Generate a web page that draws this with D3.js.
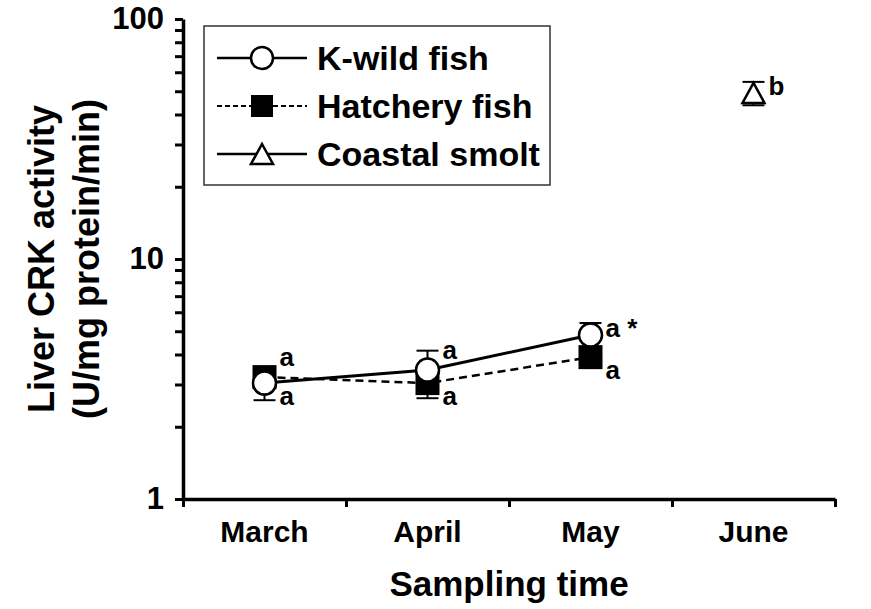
<!DOCTYPE html>
<html>
<head>
<meta charset="utf-8">
<script src="https://cdn.jsdelivr.net/npm/d3@7"></script>
<style>
  body { margin: 0; background: #fff; }
  svg { display: block; font-family: Arial, "Liberation Sans", sans-serif; font-weight: bold; }
</style>
</head>
<body>
<div id="chart"></div>
<script>
// sampling months
const months = ["March", "April", "May", "June"];

// K-wild fish (mean, SE)
const wildMean = [3.04, 3.45, 4.82, null];
const wildSE = [0.46, 0.7, 0.59, null];
const wildLetters = ["a", "a", "a*", null];
const wildSide = ["below", "above", "mid", null];

// Hatchery fish
const hatchMean = [3.22, 3.04, 3.9, null];
const hatchSE = [0.3, 0.41, 0.3, null];
const hatchLetters = ["a", "a", "a", null];
const hatchSide = ["above", "below", "below", null];

// Coastal smolt
const smoltMean = [null, null, null, 49.2];
const smoltSE = [null, null, null, 5.5];
const smoltLetters = [null, null, null, "b"];
const smoltSide = [null, null, null, "mid"];

const yTicks = [1, 2, 3, 4, 5, 6, 7, 8, 9, 10, 20, 30, 40, 50, 60, 70, 80, 90, 100];
const yLabels = [1, 10, 100];

const width = 871, height = 609;
const margin = { top: 19, right: 36, bottom: 110, left: 183 };

const x = d3.scaleBand()
    .domain(months)
    .range([margin.left, width - margin.right]);

const xEdge = d3.scaleLinear()
    .domain([0, months.length])
    .range([margin.left, width - margin.right]);

const y = d3.scaleLog()
    .domain([1, 100])
    .range([height - margin.bottom, margin.top]);

const svg = d3.select("#chart")
    .append("svg")
    .attr("width", width)
    .attr("height", height)
    .attr("viewBox", [0, 0, width, height]);

// axes
const yAxis = g => g
    .attr("transform", `translate(${margin.left},0)`)
    .call(d3.axisLeft(y)
        .tickValues(yTicks)
        .tickSize(8)
        .tickSizeOuter(0)
        .tickPadding(11)
        .tickFormat(d => yLabels.includes(d) ? d : ""))
    .call(g => g.select(".domain").attr("stroke-width", 3.5))
    .call(g => g.selectAll(".tick line").attr("stroke-width", 3))
    .call(g => g.selectAll(".tick text")
        .attr("font-size", 31)
        .attr("font-family", null)
        .attr("fill", "#000"));

const xEdgeAxis = g => g
    .attr("transform", `translate(0,${height - margin.bottom})`)
    .call(d3.axisBottom(xEdge)
        .ticks(months.length)
        .tickSize(8)
        .tickSizeOuter(0)
        .tickFormat(""))
    .call(g => g.select(".domain").attr("stroke-width", 3.5))
    .call(g => g.selectAll(".tick line").attr("stroke-width", 3));

const xAxis = g => g
    .attr("transform", `translate(0,${height - margin.bottom})`)
    .call(d3.axisBottom(x).tickSize(0).tickPadding(22))
    .call(g => g.select(".domain").remove())
    .call(g => g.selectAll(".tick text")
        .attr("font-size", 30)
        .attr("font-family", null)
        .attr("fill", "#000"));

svg.append("g").call(xEdgeAxis);
svg.append("g").call(xAxis);
svg.append("g").call(yAxis);

svg.append("text")
    .attr("x", (margin.left + width - margin.right) / 2)
    .attr("y", 596)
    .attr("text-anchor", "middle")
    .attr("font-size", 35)
    .text("Sampling time");

const yTitle = svg.append("text")
    .attr("transform", `translate(0,${(margin.top + height - margin.bottom) / 2}) rotate(-90)`)
    .attr("text-anchor", "middle")
    .attr("font-size", 36);
yTitle.append("tspan").attr("x", 0).attr("y", 54).text("Liver CRK activity");
yTitle.append("tspan").attr("x", 0).attr("y", 99).text("(U/mg protein/min)");

// series
const series = [
    { name: "Hatchery fish", mean: hatchMean, se: hatchSE, letters: hatchLetters, side: hatchSide, marker: "square", dash: "8,5" },
    { name: "K-wild fish", mean: wildMean, se: wildSE, letters: wildLetters, side: wildSide, marker: "circle", dash: null },
    { name: "Coastal smolt", mean: smoltMean, se: smoltSE, letters: smoltLetters, side: smoltSide, marker: "triangle", dash: null }
];

const pts = s => months.map((m, i) => ({ m, v: s.mean[i], se: s.se[i], letter: s.letters[i], side: s.side[i] }))
    .filter(d => d.v != null);

const cx = d => x(d.m) + x.bandwidth() / 2;

function drawMarker(g, type, px, py) {
    if (type === "circle") {
        g.append("circle").attr("cx", px).attr("cy", py).attr("r", 11.5)
            .attr("fill", "#fff").attr("stroke", "#000").attr("stroke-width", 2.5);
    } else if (type === "square") {
        g.append("rect").attr("x", px - 12).attr("y", py - 12).attr("width", 24).attr("height", 24)
            .attr("fill", "#000");
    } else {
        g.append("path")
            .attr("d", `M${px},${py - 10}L${px + 11},${py + 10}L${px - 11},${py + 10}Z`)
            .attr("fill", "#fff").attr("stroke", "#000").attr("stroke-width", 2.5)
            .attr("stroke-linejoin", "miter");
    }
}

// error bars
const errG = svg.append("g").attr("stroke", "#000").attr("stroke-width", 2);
series.forEach(s => {
    pts(s).forEach(d => {
        const px = cx(d);
        errG.append("line").attr("x1", px).attr("x2", px).attr("y1", y(d.v - d.se)).attr("y2", y(d.v + d.se));
        [d.v - d.se, d.v + d.se].forEach(e => {
            errG.append("line").attr("x1", px - 11).attr("x2", px + 11).attr("y1", y(e)).attr("y2", y(e));
        });
    });
});

// lines
const line = d3.line().x(cx).y(d => y(d.v));
series.forEach(s => {
    svg.append("path")
        .datum(pts(s))
        .attr("fill", "none")
        .attr("stroke", "#000")
        .attr("stroke-width", s.dash ? 2.5 : 3)
        .attr("stroke-dasharray", s.dash)
        .attr("d", line);
});

// markers and letters
const sideDy = { above: -11, mid: 2, below: 22 };
series.forEach(s => {
    const g = svg.append("g");
    pts(s).forEach(d => {
        drawMarker(g, s.marker, cx(d), y(d.v));
        g.append("text")
            .attr("x", cx(d) + 15)
            .attr("y", y(d.v) + sideDy[d.side])
            .attr("font-size", 26)
            .text(d.letter ? d.letter.replace("*", " *") : null)
            .attr("xml:space", "preserve");
    });
});

// legend
const legendOrder = ["K-wild fish", "Hatchery fish", "Coastal smolt"];
const legend = svg.append("g");
legend.append("rect")
    .attr("x", 204).attr("y", 26).attr("width", 346).attr("height", 159)
    .attr("fill", "#fff").attr("stroke", "#333").attr("stroke-width", 1.5);

legendOrder.forEach((name, i) => {
    const s = series.find(t => t.name === name);
    const ly = 58 + i * 48;
    legend.append("line")
        .attr("x1", 217).attr("x2", 307).attr("y1", ly).attr("y2", ly)
        .attr("stroke", "#000")
        .attr("stroke-width", s.dash ? 2 : 2.5)
        .attr("stroke-dasharray", s.dash ? "5,3" : null);
    const mg = legend.append("g");
    if (s.marker === "circle") {
        mg.append("circle").attr("cx", 262).attr("cy", ly).attr("r", 11)
            .attr("fill", "#fff").attr("stroke", "#000").attr("stroke-width", 2.5);
    } else if (s.marker === "square") {
        mg.append("rect").attr("x", 251).attr("y", ly - 11).attr("width", 22).attr("height", 22).attr("fill", "#000");
    } else {
        mg.append("path")
            .attr("d", `M262,${ly - 10}L273,${ly + 10}L251,${ly + 10}Z`)
            .attr("fill", "#fff").attr("stroke", "#000").attr("stroke-width", 2.5);
    }
    legend.append("text")
        .attr("x", 317)
        .attr("y", ly + 12)
        .attr("font-size", 34)
        .text(name);
});
</script>
</body>
</html>
